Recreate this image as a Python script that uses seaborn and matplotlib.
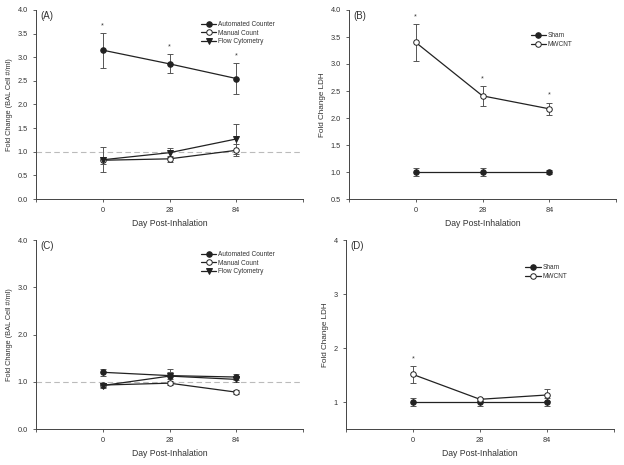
import numpy as np
import pandas as pd
import matplotlib
matplotlib.use("Agg")
import matplotlib.pyplot as plt
import seaborn as sns

# ---------------- data ----------------
days = ["0", "28", "84"]

# Panel A: BAL cell counts (day 0..84)
a_auto = [3.15, 2.86, 2.55]
a_auto_err = [0.37, 0.20, 0.33]
a_manual = [0.82, 0.85, 1.03]
a_manual_err = [0.07, 0.07, 0.13]
a_flow = [0.83, 0.98, 1.27]
a_flow_err = [0.26, 0.10, 0.31]
a_stars = [True, True, True]

# Panel B: LDH
b_sham = [1.00, 1.00, 1.00]
b_sham_err = [0.07, 0.08, 0.03]
b_mwcnt = [3.40, 2.41, 2.17]
b_mwcnt_err = [0.34, 0.18, 0.11]
b_stars = [True, True, True]

# Panel C: BAL cell counts
c_auto = [1.20, 1.13, 1.10]
c_auto_err = [0.07, 0.08, 0.06]
c_manual = [0.93, 0.97, 0.78]
c_manual_err = [0.05, 0.04, 0.04]
c_flow = [0.92, 1.12, 1.05]
c_flow_err = [0.05, 0.15, 0.06]
c_stars = [False, False, False]

# Panel D: LDH
d_sham = [1.00, 1.00, 1.00]
d_sham_err = [0.08, 0.08, 0.07]
d_mwcnt = [1.51, 1.05, 1.13]
d_mwcnt_err = [0.15, 0.03, 0.11]
d_stars = [True, False, False]

count_labels = ["Automated Counter", "Manual Count", "Flow Cytometry"]
ldh_labels = ["Sham", "MWCNT"]

# ---------------- style ----------------
sns.set_style("ticks")
plt.rcParams["font.family"] = ["Liberation Sans", "DejaVu Sans"]
TXT = "#333333"
LC = "#222222"
plt.rcParams.update({
    "axes.edgecolor": "#444444",
    "axes.linewidth": 0.7,
    "xtick.color": "#444444",
    "ytick.color": "#444444",
    "xtick.labelcolor": TXT,
    "ytick.labelcolor": TXT,
    "xtick.major.size": 2.5,
    "ytick.major.size": 2.5,
    "xtick.major.width": 0.6,
    "ytick.major.width": 0.6,
    "xtick.labelsize": 5.3,
    "ytick.labelsize": 5.3,
})

fig = plt.figure(figsize=(6.24, 4.65), dpi=100)
W, H = 624, 465


def add_ax(l, r, t, b):
    return fig.add_axes([l / W, 1 - b / H, (r - l) / W, (b - t) / H])


axA = add_ax(36, 303, 10, 199)
axB = add_ax(349, 616, 10, 199)
axC = add_ax(36, 303, 240, 429)
axD = add_ax(346, 614, 240, 429)

pos = np.arange(1, len(days) + 1)

styles = {
    "Automated Counter": dict(marker="o", markerfacecolor=LC),
    "Manual Count": dict(marker="o", markerfacecolor="white"),
    "Flow Cytometry": dict(marker="v", markerfacecolor=LC),
    "Sham": dict(marker="o", markerfacecolor=LC),
    "MWCNT": dict(marker="o", markerfacecolor="white"),
}


def draw_panel(ax, labels, means, errs, stars, letter, ylim, yticks, yticklabels,
               ylabel, ylabel_size, dashed, legend_anchor, star_off):
    rows = []
    for lab, m in zip(labels, means):
        for p, d, v in zip(pos, days, m):
            rows.append(dict(series=lab, pos=p, day=d, value=v))
    df = pd.DataFrame(rows)
    if dashed:
        ax.axhline(1.0, color="#bbbbbb", lw=0.8, ls=(0, (5, 3)), zorder=0)
    for i, (lab, m, e) in enumerate(zip(labels, means, errs)):
        ax.errorbar(pos, m, yerr=e, fmt="none", ecolor="#555555", elinewidth=0.7,
                    capsize=1.9, capthick=0.7, zorder=2 + i * 0.1)
        sub = df[df.series == lab]
        st = styles[lab]
        sns.lineplot(data=sub, x="pos", y="value", ax=ax, color=LC, lw=0.9,
                     marker=st["marker"], markerfacecolor=st["markerfacecolor"],
                     markeredgecolor=LC, markeredgewidth=0.7, markersize=4.0,
                     label=lab, errorbar=None, zorder=3 + i * 0.1)
    # significance stars
    top = [max(m[k] + e[k] for m, e in zip(means, errs)) for k in range(len(days))]
    for k, s in enumerate(stars):
        if s:
            ax.text(pos[k], top[k] + star_off, "*", ha="center", va="center",
                    fontsize=5.2, color=TXT)
    ax.set_xlim(0, 4)
    ax.set_ylim(*ylim)
    ax.set_xticks([0, 1, 2, 3, 4])
    ax.set_xticklabels([""] + days + [""])
    ax.set_yticks(yticks)
    ax.set_yticklabels(yticklabels)
    ax.set_xlabel("Day Post-Inhalation", fontsize=6.2, color=TXT, labelpad=3)
    ax.set_ylabel(ylabel, fontsize=ylabel_size, color=TXT, labelpad=3)
    sns.despine(ax=ax)
    ax.text(0.015, 0.995, f"({letter})", transform=ax.transAxes, ha="left", va="top",
            fontsize=7, color=TXT)
    ax.legend(loc="upper left", bbox_to_anchor=legend_anchor, frameon=False,
              fontsize=4.7, handlelength=2.3, handletextpad=0.3, labelspacing=0.25,
              borderaxespad=0, labelcolor=TXT)


a_ticks = np.arange(0, 4.01, 0.5)
draw_panel(axA, count_labels, [a_auto, a_manual, a_flow],
           [a_auto_err, a_manual_err, a_flow_err], a_stars, "A", (0, 4), a_ticks,
           [f"{t:.1f}" for t in a_ticks], "Fold Change (BAL Cell #/ml)", 5.3, True,
           (0.61, 0.955), 0.15)

b_ticks = np.arange(0.5, 4.01, 0.5)
draw_panel(axB, ldh_labels, [b_sham, b_mwcnt], [b_sham_err, b_mwcnt_err], b_stars,
           "B", (0.5, 4), b_ticks, [f"{t:.1f}" for t in b_ticks], "Fold Change LDH",
           5.9, False, (0.67, 0.895), 0.14)

c_ticks = np.arange(0, 4.01, 1.0)
draw_panel(axC, count_labels, [c_auto, c_manual, c_flow],
           [c_auto_err, c_manual_err, c_flow_err], c_stars, "C", (0, 4), c_ticks,
           [f"{t:.1f}" for t in c_ticks], "Fold Change (BAL Cell #/ml)", 5.3, True,
           (0.61, 0.955), 0.15)

d_ticks = [1, 2, 3, 4]
draw_panel(axD, ldh_labels, [d_sham, d_mwcnt], [d_sham_err, d_mwcnt_err], d_stars,
           "D", (0.5, 4), d_ticks, [str(t) for t in d_ticks], "Fold Change LDH",
           5.9, False, (0.66, 0.885), 0.14)

fig.savefig("out.png", dpi=100, facecolor="white")
